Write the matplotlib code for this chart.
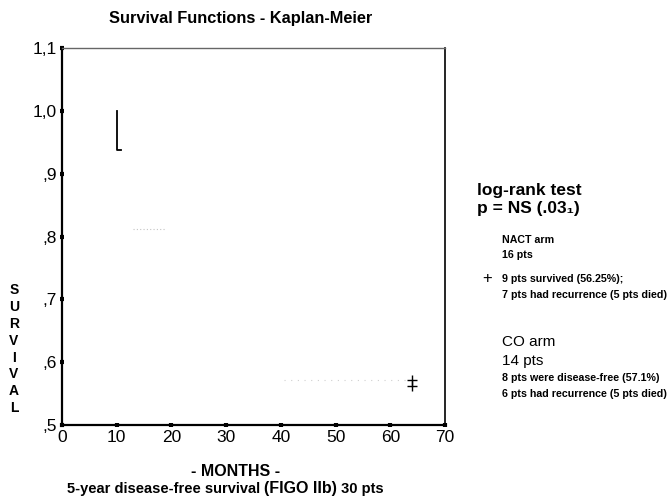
import matplotlib
matplotlib.use('Agg')
import matplotlib.pyplot as plt

plt.rcParams['font.family'] = ['Liberation Sans', 'DejaVu Sans']

# ---- data ----
nact_t = [10, 10, 10.7]          # visible step of the NACT curve
nact_s = [1.0, 0.9375, 0.9375]
faint1_t = [13, 19]              # faded segment (scan)
faint1_s = [0.8125, 0.8125]
faint2_t = [40.5, 63]
faint2_s = [0.5714, 0.5714]
censor_t = [64, 64]
censor_s = [0.5714, 0.5625]

xticks = [0, 10, 20, 30, 40, 50, 60, 70]
yticks = [0.5, 0.6, 0.7, 0.8, 0.9, 1.0, 1.1]
ytick_labels = [',5', ',6', ',7', ',8', ',9', '1,0', '1,1']

fig = plt.figure(figsize=(6.72, 5.04), dpi=100)
ax = fig.add_axes([0.0923, 0.1567, 0.5699, 0.7481])

ax.plot(nact_t, nact_s, color='black', lw=1.3)
ax.plot(faint1_t, faint1_s, color='#c4c4c4', lw=0.8, ls=(0, (1, 2)))
ax.plot(faint2_t, faint2_s, color='#d0d0d0', lw=0.8, ls=(0, (1, 5)))
ax.plot(censor_t, censor_s, ls='none', marker='+', ms=7, mew=1.0, color='black')

ax.set_xlim(0, 70)
ax.set_ylim(0.5, 1.1)
ax.set_xticks(xticks)
ax.set_yticks(yticks)
ax.set_yticklabels(ytick_labels)
ax.tick_params(direction='inout', length=3, width=3, labelsize=12.5, pad=2)

for side in ['left', 'bottom']:
    ax.spines[side].set_linewidth(1.6)
ax.spines['top'].set_linewidth(1.0)
ax.spines['top'].set_color('#666666')
ax.spines['right'].set_linewidth(1.2)

# title
fig.text(241 / 672, 0.963, 'Survival Functions - Kaplan-Meier', ha='center', va='center',
         fontsize=11.8, fontweight='bold')

# stacked y label
for i, ch in enumerate('SURVIVAL'):
    fig.text(14 / 672, 1 - (290 + i * 16.9) / 504, ch, ha='center', va='center',
             fontsize=10, fontweight='bold')

# x label
fig.text(236 / 672, 1 - 472 / 504, '- MONTHS -', ha='center', va='center',
         fontsize=11.5, fontweight='bold')

fig.canvas.draw()
r = fig.canvas.get_renderer()
parts = [('5-year disease-free survival ', 10.5, 'bold'),
         ('(FIGO IIb)', 11.5, 'heavy'),
         (' 30 pts', 10.5, 'bold')]
x = 67
for txt, fs, fw in parts:
    t = fig.text(x / 672, 1 - 489 / 504, txt, ha='left', va='center',
                 fontsize=fs, fontweight=fw)
    x += t.get_window_extent(r).width

# right-hand annotations
small = 7.7
fig.text(477 / 672, 1 - 190 / 504, 'log-rank test', ha='left', va='center',
         fontsize=12.5, fontweight='bold')
fig.text(477 / 672, 1 - 208 / 504, 'p = NS (.03\u2081)', ha='left', va='center',
         fontsize=12.5, fontweight='bold')
fig.text(502 / 672, 1 - 240 / 504, 'NACT arm', ha='left', va='center',
         fontsize=small, fontweight='bold')
fig.text(502 / 672, 1 - 255 / 504, '16 pts', ha='left', va='center',
         fontsize=small, fontweight='bold')
fig.text(487 / 672, 1 - 279 / 504, '+', ha='center', va='center',
         fontsize=12)
fig.text(502 / 672, 1 - 279 / 504, '9 pts survived (56.25%);', ha='left', va='center',
         fontsize=small, fontweight='bold')
fig.text(502 / 672, 1 - 295 / 504, '7 pts had recurrence (5 pts died)', ha='left',
         va='center', fontsize=small, fontweight='bold')
fig.text(502 / 672, 1 - 342 / 504, 'CO arm', ha='left', va='center', fontsize=11)
fig.text(502 / 672, 1 - 361 / 504, '14 pts', ha='left', va='center', fontsize=11)
fig.text(502 / 672, 1 - 378 / 504, '8 pts were disease-free (57.1%)', ha='left',
         va='center', fontsize=small, fontweight='bold')
fig.text(502 / 672, 1 - 394 / 504, '6 pts had recurrence (5 pts died)', ha='left',
         va='center', fontsize=small, fontweight='bold')

fig.savefig('out.png', dpi=100, facecolor='white')
